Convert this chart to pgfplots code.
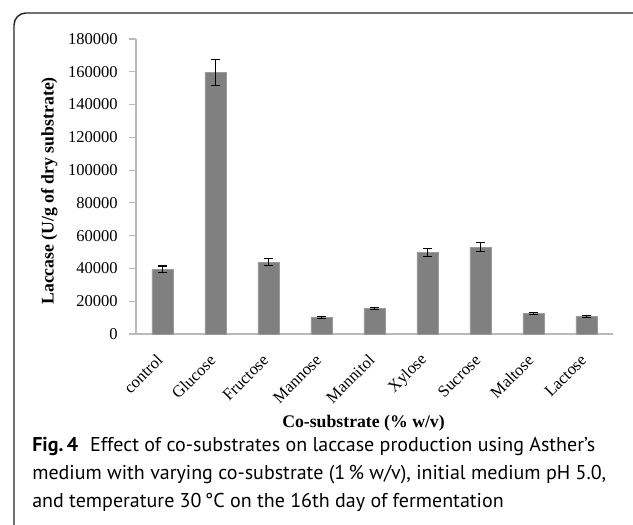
\documentclass[border=0pt]{standalone}
\usepackage{fontspec}
\setmainfont{Liberation Serif}
\newfontfamily\capfont{PT Sans}
\usepackage{pgfplots}
\pgfplotsset{compat=1.18}
\usepackage{pgfplotstable}

\definecolor{barfill}{RGB}{128,128,128}
\definecolor{baredge}{RGB}{155,155,155}
\definecolor{axisgray}{RGB}{185,185,185}
\tikzset{catlabel/.style={rotate=45, anchor=east, inner sep=0pt, font=\fontsize{12.4}{14}\selectfont}}

\pgfplotstableread{
x y err
0 39500 2000
1 159500 8000
2 43800 2200
3 10000 500
4 15700 700
5 49700 2400
6 53000 2800
7 12300 600
8 10800 500
}\datatable

\begin{document}
\begin{tikzpicture}[x=0.75pt,y=0.75pt]
\useasboundingbox (0,0) rectangle (633,525);
\coordinate (O) at (136,191);
\draw[line width=1.1pt, black!85, rounded corners=9pt] (14,-5) -- (14,512) -- (645,512);
\begin{axis}[
  at={(O)}, anchor=south west,
  scale only axis, width=357.75pt, height=221.25pt,
  xmin=-0.5, xmax=8.5, ymin=0, ymax=180000,
  axis lines=left,
  axis line style={-, draw=axisgray, line width=0.9pt},
  tick align=outside,
  ytick={0,20000,40000,60000,80000,100000,120000,140000,160000,180000},
  yticklabels={0,20000,40000,60000,80000,100000,120000,140000,160000,180000},
  scaled y ticks=false,
  major tick length=5.25pt,
  minor tick length=4.5pt,
  y tick style={draw=axisgray, line width=0.9pt},
  xtick=\empty,
  minor xtick={-0.5,0.5,...,8.5},
  minor x tick style={draw=axisgray, line width=0.9pt},
  yticklabel style={font=\fontsize{12.4}{14}\selectfont, xshift=-5pt},
  xlabel={\bfseries Co-substrate (\% w/v)},
  xlabel style={at={(rel axis cs:0.477,0)}, anchor=base, yshift=-70.5pt, font=\fontsize{13.3}{15}\selectfont},
  ylabel={\bfseries Laccase (U/g of dry substrate)},
  ylabel style={at={(rel axis cs:0,0.485)}, anchor=center, rotate=0, yshift=65pt, font=\fontsize{13.3}{15}\selectfont},
  clip=false,
]
\addplot[ybar, bar width=15.75pt, fill=barfill, draw=baredge, line width=0.6pt,
  error bars/.cd, y dir=both, y explicit,
  error bar style={black, line width=0.9pt},
  error mark options={black, rotate=90, mark size=3.6pt, line width=0.9pt}]
  table[x=x, y=y, y error=err] {\datatable};
\node[catlabel] at ([xshift=-2pt,yshift=-17.5pt]axis cs:0,0) {control};
\node[catlabel] at ([xshift=-2pt,yshift=-17.5pt]axis cs:1,0) {Glucose};
\node[catlabel] at ([xshift=-2pt,yshift=-17.5pt]axis cs:2,0) {Fructose};
\node[catlabel] at ([xshift=-2pt,yshift=-17.5pt]axis cs:3,0) {Mannose};
\node[catlabel] at ([xshift=-2pt,yshift=-17.5pt]axis cs:4,0) {Mannitol};
\node[catlabel] at ([xshift=-2pt,yshift=-17.5pt]axis cs:5,0) {Xylose};
\node[catlabel] at ([xshift=-2pt,yshift=-17.5pt]axis cs:6,0) {Sucrose};
\node[catlabel] at ([xshift=-2pt,yshift=-17.5pt]axis cs:7,0) {Maltose};
\node[catlabel] at ([xshift=-2pt,yshift=-17.5pt]axis cs:8,0) {Lactose};
\end{axis}
\node[anchor=base west, inner sep=0pt, font=\capfont\fontsize{15}{18}\selectfont] at (32,73) {\textbf{Fig.\,4}\hspace{9pt}Effect of co-substrates on laccase production using Asther’s};
\node[anchor=base west, inner sep=0pt, font=\capfont\fontsize{15}{18}\selectfont] at (32,45) {medium with varying co-substrate (1\,\% w/v), initial medium pH 5.0,};
\node[anchor=base west, inner sep=0pt, font=\capfont\fontsize{15}{18}\selectfont] at (32,17) {and temperature 30\,°C on the 16th day of fermentation};
\end{tikzpicture}
\end{document}
